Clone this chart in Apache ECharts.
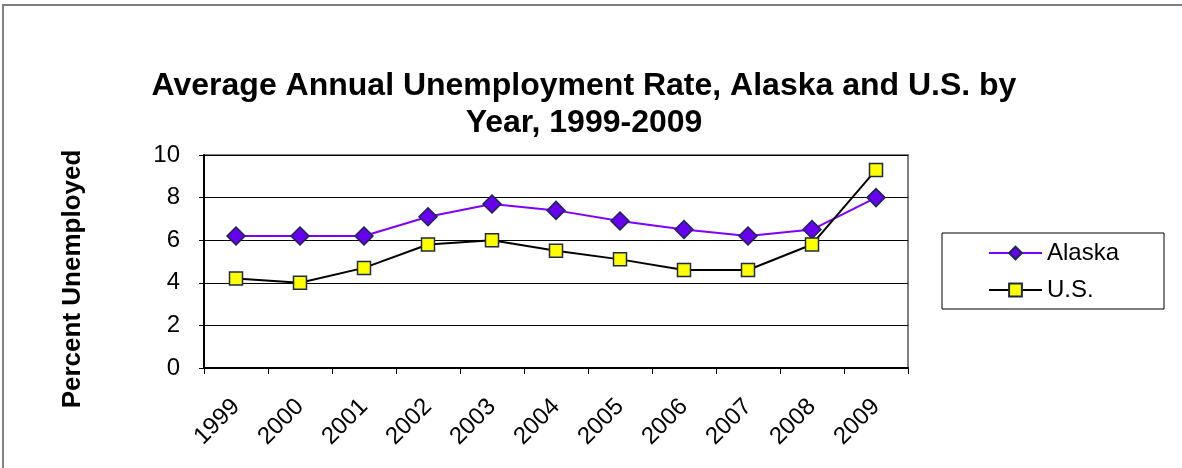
<!DOCTYPE html>
<html>
<head>
<meta charset="utf-8">
<script src="https://cdn.jsdelivr.net/npm/echarts@6/dist/echarts.min.js"></script>
<style>
  html, body { margin: 0; padding: 0; background: #fff; }
  #chart { width: 1182px; height: 468px; }
</style>
</head>
<body>
<div id="chart"></div>
<script>
// years and yearly unemployment rates (%)
var years = ['1999', '2000', '2001', '2002', '2003', '2004', '2005', '2006', '2007', '2008', '2009'];
var alaska = [6.2, 6.2, 6.2, 7.1, 7.7, 7.4, 6.9, 6.5, 6.2, 6.5, 8.0];
var us = [4.2, 4.0, 4.7, 5.8, 6.0, 5.5, 5.1, 4.6, 4.6, 5.8, 9.3];

var font = 'Liberation Sans, Arial, sans-serif';
var chart = echarts.init(document.getElementById('chart'));

chart.setOption({
    animation: false,
    textStyle: { fontFamily: font },
    title: {
        text: 'Average Annual Unemployment Rate, Alaska and U.S. by\nYear, 1999-2009',
        left: 579,
        textAlign: 'center',
        top: 63,
        textStyle: { fontSize: 32, fontWeight: 'bold', color: '#000', lineHeight: 37, fontFamily: font }
    },
    graphic: [
        {
            type: 'rect',
            shape: { x: 3, y: 5, width: 1200, height: 500 },
            style: { fill: 'none', stroke: '#808080', lineWidth: 2 },
            silent: true
        },
        {
            type: 'rect',
            shape: { x: 942, y: 233, width: 222, height: 76 },
            style: { fill: '#fff', stroke: '#000', lineWidth: 1 },
            z: 1
        },
        {
            // y axis title, placed by hand since it sits a bit below the plot centre
            type: 'text',
            x: 73,
            y: 279,
            rotation: Math.PI / 2,
            style: {
                text: 'Percent Unemployed',
                font: 'bold 26px Liberation Sans, Arial, sans-serif',
                fill: '#000',
                align: 'center',
                verticalAlign: 'middle'
            }
        }
    ],
    legend: {
        orient: 'vertical',
        left: 988,
        top: 241,
        padding: 0,
        itemGap: 13,
        itemWidth: 53,
        itemHeight: 16,
        z: 5,
        textStyle: { fontSize: 24, color: '#000', fontFamily: font },
        data: ['Alaska', 'U.S.']
    },
    grid: {
        left: 204,
        top: 155,
        width: 704,
        height: 213,
        show: true,
        borderColor: '#808080',
        borderWidth: 2,
        containLabel: false
    },
    xAxis: {
        type: 'category',
        data: years,
        boundaryGap: true,
        axisLine: { lineStyle: { color: '#000', width: 2 } },
        axisTick: { show: true, length: 6, lineStyle: { color: '#000', width: 1 } },
        axisLabel: { rotate: 45, fontSize: 24, color: '#000', margin: 35, fontFamily: font },
        splitLine: { show: false }
    },
    yAxis: {
        type: 'value',
        min: 0,
        max: 10,
        interval: 2,
        axisLine: { show: true, lineStyle: { color: '#000', width: 2 } },
        axisTick: { show: true, length: 5, lineStyle: { color: '#000' } },
        axisLabel: { fontSize: 24, color: '#000', margin: 24, fontFamily: font },
        splitLine: { lineStyle: { color: '#000', width: 1 } }
    },
    series: [
        {
            name: 'Alaska',
            type: 'line',
            data: alaska,
            symbol: 'diamond',
            symbolSize: 18,
            lineStyle: { color: '#8000ff', width: 2 },
            itemStyle: { color: '#6600ee', borderColor: '#1c2a4a', borderWidth: 1.5 },
            z: 3
        },
        {
            name: 'U.S.',
            type: 'line',
            data: us,
            symbol: 'rect',
            symbolSize: 13,
            lineStyle: { color: '#000', width: 2 },
            itemStyle: { color: '#ffff00', borderColor: '#1c2a4a', borderWidth: 1.5 },
            z: 4
        }
    ]
});
</script>
</body>
</html>
